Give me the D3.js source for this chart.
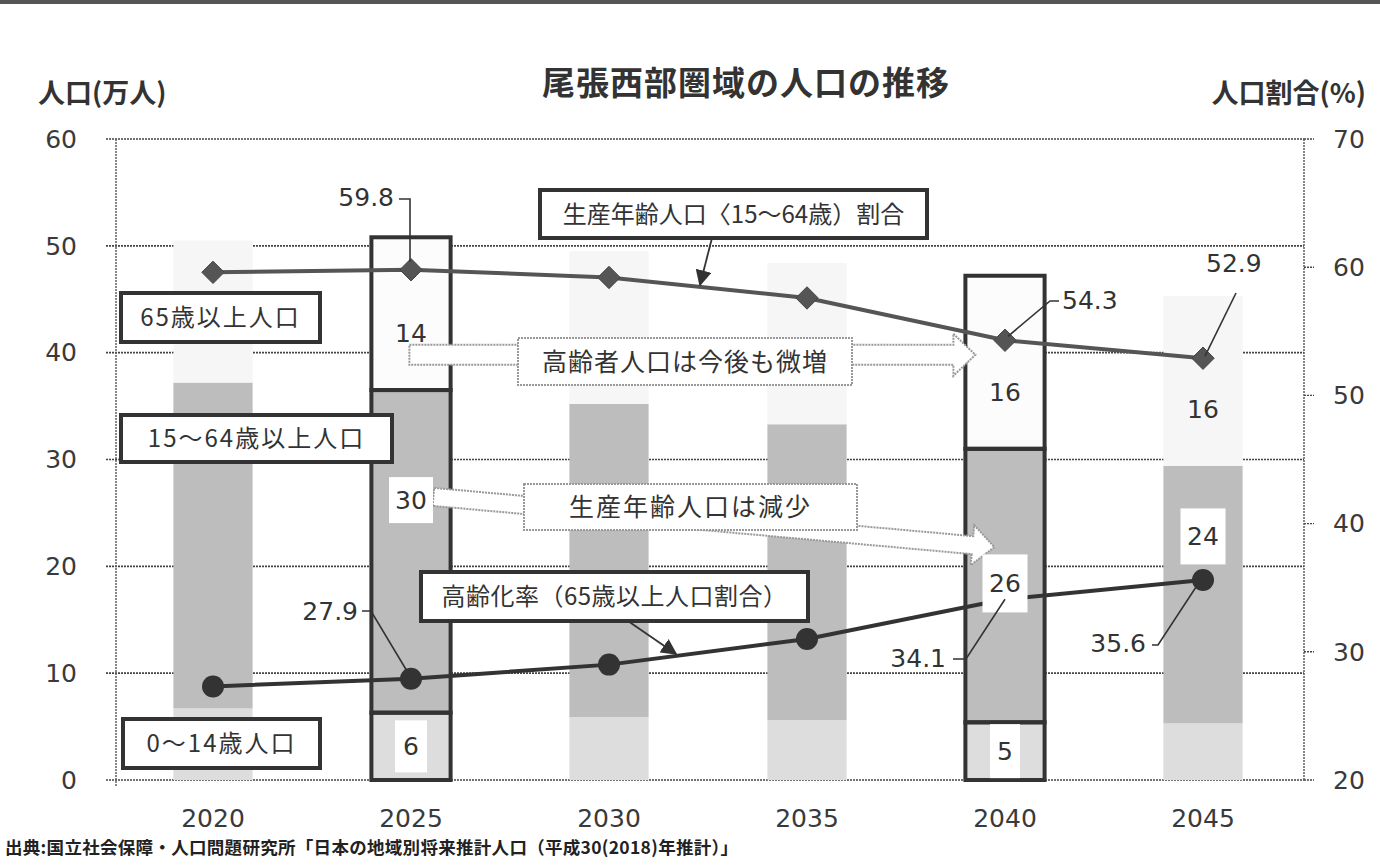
<!DOCTYPE html>
<html><head><meta charset="utf-8">
<script src="https://cdn.jsdelivr.net/npm/d3@7"></script>
<style>
html,body{margin:0;padding:0;background:#fff;}
svg{display:block;}
</style></head>
<body>
<svg id="chart" width="1380" height="866"></svg>
<script>
// ---- data ----
const years = ["2020","2025","2030","2035","2040","2045"];
const pop0_14 = [6.7, 6.3, 5.9, 5.6, 5.4, 5.3];
const pop15_64 = [30.5, 30.2, 29.3, 27.7, 25.6, 24.1];
const pop65 = [13.3, 14.3, 14.3, 15.1, 16.2, 15.9];
const ratio15_64 = [59.6, 59.8, 59.2, 57.6, 54.3, 52.9];
const ratio65 = [27.3, 27.9, 29.0, 31.0, 34.1, 35.6];
const leftTicks = [0,10,20,30,40,50,60];
const rightTicks = [20,30,40,50,60,70];
const highlightYears = ["2025","2040"];
const barLabels65 = {"2025":"14","2040":"16","2045":"16"};
const barLabels15 = {"2025":"30","2040":"26","2045":"24"};
const barLabels0 = {"2025":"6","2040":"5"};
const ratioLabels15 = {"2025":"59.8","2040":"54.3","2045":"52.9"};
const ratioLabels65 = {"2025":"27.9","2040":"34.1","2045":"35.6"};

const title = "尾張西部圏域の人口の推移";
const leftTitle = "人口(万人)";
const rightTitle = "人口割合(%)";
const source = "出典:国立社会保障・人口問題研究所「日本の地域別将来推計人口（平成30(2018)年推計）」";

// ---- layout ----
const L = 116, R = 1304, T = 139, B = 780;
const svg = d3.select("#chart");
const JP = "'Noto Sans CJK JP','Noto Sans',sans-serif";
const NUM = "'DejaVu Sans','Noto Sans',sans-serif";
const INK = "#333";

const x = d3.scaleBand().domain(years).range([L-2, R-2]).paddingInner(0.6).paddingOuter(0.3);
const yL = d3.scaleLinear().domain([0,60]).range([B,T]);
const yR = d3.scaleLinear().domain([20,70]).range([B,T]);
const cx = d => x(d) + x.bandwidth()/2;

svg.append("rect").attr("x",0).attr("y",0).attr("width",1380).attr("height",866).attr("fill","#fff");
svg.append("rect").attr("x",0).attr("y",0).attr("width",1380).attr("height",4).attr("fill","#555");

// gridlines (left axis)
const grid = svg.append("g");
grid.selectAll("line").data(leftTicks).join("line")
  .attr("x1",L-10).attr("x2",R).attr("y1",d=>yL(d)).attr("y2",d=>yL(d))
  .attr("stroke","#444").attr("stroke-width",1.6).attr("stroke-dasharray","2,1");
grid.append("g").selectAll("line").data(rightTicks).join("line")
  .attr("x1",R).attr("x2",R+10).attr("y1",d=>yR(d)).attr("y2",d=>yR(d))
  .attr("stroke","#444").attr("stroke-width",1.4).attr("stroke-dasharray","2,1");
grid.append("line").attr("x1",L).attr("x2",L).attr("y1",T).attr("y2",B+6)
  .attr("stroke","#555").attr("stroke-width",1.4).attr("stroke-dasharray","2,1");
grid.append("line").attr("x1",R).attr("x2",R).attr("y1",T).attr("y2",B)
  .attr("stroke","#555").attr("stroke-width",1.4).attr("stroke-dasharray","2,1");

// axis labels
svg.append("g").selectAll("text").data(leftTicks).join("text")
  .attr("x",77).attr("y",d=>yL(d)).attr("dy","0.35em").attr("text-anchor","end")
  .attr("font-family",NUM).attr("font-size",25).attr("fill","#3a3a3a").text(d=>d);
svg.append("g").selectAll("text").data(rightTicks).join("text")
  .attr("x",1333).attr("y",d=>yR(d)).attr("dy","0.35em").attr("text-anchor","start")
  .attr("font-family",NUM).attr("font-size",25).attr("fill","#3a3a3a").text(d=>d);
svg.append("g").selectAll("text").data(years).join("text")
  .attr("x",d=>cx(d)).attr("y",818).attr("dy","0.35em").attr("text-anchor","middle")
  .attr("font-family",NUM).attr("font-size",25).attr("fill","#3a3a3a").text(d=>d);

// stacked bars
const table = years.map((y,i)=>({year:y, young:pop0_14[i], working:pop15_64[i], old:pop65[i]}));
const keys = ["young","working","old"];
const fills = {young:"#dddddd", working:"#bdbdbd", old:"#f6f6f6"};
const stack = d3.stack().keys(keys)(table);
const barsG = svg.append("g");
stack.forEach(layer=>{
  barsG.append("g").selectAll("rect").data(layer).join("rect")
    .attr("x",d=>x(d.data.year)).attr("width",x.bandwidth())
    .attr("y",d=>yL(d[1])).attr("height",d=>yL(d[0])-yL(d[1]))
    .attr("fill",d=> (layer.key==="old" && highlightYears.includes(d.data.year)) ? "#fcfcfc" : fills[layer.key]);
});
stack.forEach(layer=>{
  barsG.append("g").selectAll("rect").data(layer.filter(d=>highlightYears.includes(d.data.year))).join("rect")
    .attr("x",d=>x(d.data.year)).attr("width",x.bandwidth())
    .attr("y",d=>yL(d[1])).attr("height",d=>yL(d[0])-yL(d[1]))
    .attr("fill","none").attr("stroke",INK).attr("stroke-width",4);
});

// lines
const lineGen = d3.line().x((d,i)=>cx(years[i])).y(d=>yR(d));
svg.append("path").datum(ratio15_64).attr("d",lineGen).attr("fill","none").attr("stroke","#555").attr("stroke-width",4);
svg.append("g").selectAll("path").data(ratio15_64).join("path")
  .attr("d",d3.symbol().type(d3.symbolDiamond2).size(320))
  .attr("transform",(d,i)=>`translate(${cx(years[i])},${yR(d)})`)
  .attr("fill","#555").attr("stroke","#444").attr("stroke-width",1);
svg.append("path").datum(ratio65).attr("d",lineGen).attr("fill","none").attr("stroke","#333").attr("stroke-width",4);
svg.append("g").selectAll("circle").data(ratio65).join("circle")
  .attr("cx",(d,i)=>cx(years[i])).attr("cy",d=>yR(d)).attr("r",11).attr("fill","#333");

// big hollow arrows
function arrowPath(x1,y1,x2,y2,hw,hl,hh){
  const a = Math.atan2(y2-y1,x2-x1), len = Math.hypot(x2-x1,y2-y1);
  const pts = [[0,-hw],[len-hl,-hw],[len-hl,-hh],[len,0],[len-hl,hh],[len-hl,hw],[0,hw]];
  return "M"+pts.map(([u,v])=>[x1+u*Math.cos(a)-v*Math.sin(a), y1+u*Math.sin(a)+v*Math.cos(a)].join(",")).join("L")+"Z";
}
const arrowsG = svg.append("g");
const ar1y = yL(39.8);
arrowsG.append("path").attr("d",arrowPath(x("2025")+38, ar1y, x("2040")+10, ar1y, 10, 22, 21))
  .attr("fill","#fff").attr("stroke","#999").attr("stroke-width",2).attr("stroke-dasharray","2,1");
arrowsG.append("path").attr("d",arrowPath(x("2025")+62, yL(26.5), x("2040")+29, yL(21.8), 9, 22, 20))
  .attr("fill","#fff").attr("stroke","#999").attr("stroke-width",2).attr("stroke-dasharray","2,1");

// bar value labels with white boxes
function valueLabel(year, yPos, txt, boxW, boxH){
  const g = svg.append("g");
  if(boxW){
    g.append("rect").attr("x",cx(year)-boxW/2).attr("y",yPos-boxH/2).attr("width",boxW).attr("height",boxH).attr("fill","#fff");
  }
  g.append("text").attr("x",cx(year)).attr("y",yPos).attr("dy","0.36em").attr("text-anchor","middle")
    .attr("font-family",NUM).attr("font-size",25).attr("fill",INK).text(txt);
}
table.forEach(d=>{
  if(barLabels65[d.year]) valueLabel(d.year, yL(d.young+d.working)-57, barLabels65[d.year]);
});
valueLabel("2025", yL(26.2), barLabels15["2025"], 44, 46);
valueLabel("2040", yL(18.4), barLabels15["2040"], 45, 58);
valueLabel("2045", yL(22.8), barLabels15["2045"], 45, 56);
valueLabel("2025", yL(pop0_14[1]/2), barLabels0["2025"], 32, 52);
valueLabel("2040", yL(pop0_14[4]/2), barLabels0["2040"], 30, 54);

// callout boxes
function callout(x1,y1,x2,y2,txt,opts){
  const g = svg.append("g");
  g.append("rect").attr("x",x1).attr("y",y1).attr("width",x2-x1).attr("height",y2-y1)
    .attr("fill","#fff").attr("stroke",opts.dotted?"#999":INK).attr("stroke-width",opts.dotted?2:4)
    .attr("stroke-dasharray",opts.dotted?"2,1":null);
  g.append("text").attr("x",(x1+x2)/2).attr("y",(y1+y2)/2).attr("dy","0.36em").attr("text-anchor","middle")
    .attr("font-family",JP).attr("font-size",opts.fs||24).attr("letter-spacing",opts.ls||0)
    .attr("fill",INK).text(txt);
}
callout(121,293,320,342,"65歳以上人口",{ls:2});
callout(121,415,392,462,"15～64歳以上人口",{ls:2});
callout(123,719,320,768,"0～14歳人口",{ls:2});
callout(540,190,927,238,"生産年齢人口〈15～64歳）割合",{});
callout(421,572,808,621,"高齢化率（65歳以上人口割合）",{ls:0.5});
callout(518,338,852,385,"高齢者人口は今後も微増",{dotted:true,fs:25,ls:1});
callout(524,484,857,530,"生産年齢人口は減少",{dotted:true,fs:25,ls:2});

// pointer arrows from callouts
svg.append("defs").append("marker").attr("id","ah").attr("viewBox","0 0 10 10").attr("refX",9).attr("refY",5)
  .attr("markerWidth",9).attr("markerHeight",9).attr("orient","auto")
  .append("path").attr("d","M0,0L10,5L0,10Z").attr("fill",INK);
function interp(arr, xp){
  for(let i=0;i<years.length-1;i++){
    const a=cx(years[i]), b=cx(years[i+1]);
    if(xp>=a && xp<=b){ const t=(xp-a)/(b-a); return yR(arr[i]+(arr[i+1]-arr[i])*t); }
  }
}
svg.append("line").attr("x1",712).attr("y1",238).attr("x2",700).attr("y2",interp(ratio15_64,700)-2)
  .attr("stroke",INK).attr("stroke-width",1.8).attr("marker-end","url(#ah)");
svg.append("line").attr("x1",628).attr("y1",621).attr("x2",676).attr("y2",interp(ratio65,676)-2)
  .attr("stroke",INK).attr("stroke-width",1.8).attr("marker-end","url(#ah)");

// ratio data labels with leaders
const leaderG = svg.append("g").attr("fill","none").attr("stroke",INK).attr("stroke-width",1.6);
function ratioLabel(txt, tx, ty, anchor, pathD){
  leaderG.append("path").attr("d",pathD);
  svg.append("text").attr("x",tx).attr("y",ty).attr("dy","0.36em").attr("text-anchor",anchor)
    .attr("font-family",NUM).attr("font-size",25).attr("fill",INK).text(txt);
}
{
  const p25 = [cx("2025"), yR(ratio15_64[1])];
  ratioLabel(ratioLabels15["2025"], 394, 197, "end", `M399,199H${p25[0]-1}V${p25[1]-8}`);
  const p40 = [cx("2040"), yR(ratio15_64[4])];
  ratioLabel(ratioLabels15["2040"], 1062, 300, "start", `M1059,301H1050L${p40[0]+3},${p40[1]-4}`);
  const p45 = [cx("2045"), yR(ratio15_64[5])];
  ratioLabel(ratioLabels15["2045"], 1206, 263, "start", `M1236,293L${p45[0]+2},${p45[1]-2}`);
  const q25 = [cx("2025"), yR(ratio65[1])];
  ratioLabel(ratioLabels65["2025"], 358, 611, "end", `M362,611H371L${q25[0]-3},${q25[1]-6}`);
  const q40 = [cx("2040"), yR(ratio65[4])];
  ratioLabel(ratioLabels65["2040"], 946, 658, "end", `M953,659H966L${q40[0]},${q40[1]}`);
  const q45 = [cx("2045"), yR(ratio65[5])];
  ratioLabel(ratioLabels65["2045"], 1146, 643, "end", `M1152,645H1158L${q45[0]-5},${q45[1]+4}`);
}

// titles
svg.append("text").attr("x",746).attr("y",83).attr("dy","0.36em").attr("text-anchor","middle")
  .attr("font-family",JP).attr("font-weight",700).attr("font-size",33).attr("letter-spacing",1).attr("fill",INK).text(title);
svg.append("text").attr("x",38).attr("y",93).attr("dy","0.36em").attr("text-anchor","start")
  .attr("font-family",JP).attr("font-weight",700).attr("font-size",27).attr("fill",INK).text(leftTitle);
svg.append("text").attr("x",1366).attr("y",93).attr("dy","0.36em").attr("text-anchor","end")
  .attr("font-family",JP).attr("font-weight",700).attr("font-size",27).attr("fill",INK).text(rightTitle);
svg.append("text").attr("x",5).attr("y",848).attr("dy","0.36em").attr("text-anchor","start")
  .attr("font-family",JP).attr("font-weight",700).attr("font-size",17.5).attr("letter-spacing",0.3).attr("fill","#222").text(source);
</script>
</body></html>
